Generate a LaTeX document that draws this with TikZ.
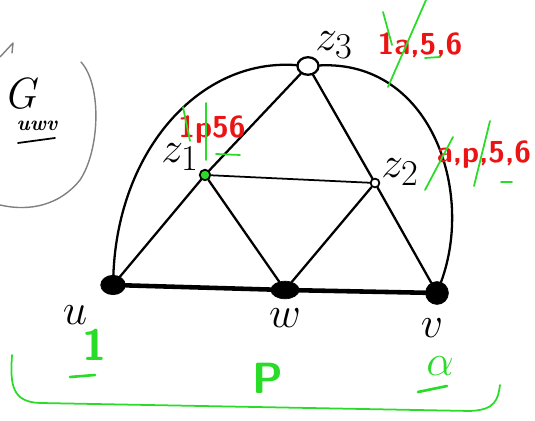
\documentclass[tikz,border=0pt]{standalone}
\usepackage{xcolor}
\definecolor{pengreen}{RGB}{40,220,40}
\definecolor{penred}{RGB}{235,20,20}
\tikzset{
  vtx/.style={draw, fill=black, ellipse, inner sep=0pt, minimum width=14pt, minimum height=11pt},
  edge/.style={line width=1.3pt},
  redlbl/.style={text=penred, font=\LARGE\bfseries\sffamily},
  vlbl/.style={font=\Huge},
  greenmark/.style={draw=pengreen, line width=1pt},
}
\usetikzlibrary{shapes.geometric}
\begin{document}
\begin{tikzpicture}[x=0.02cm, y=-0.02cm, line cap=round, line join=round]
    \useasboundingbox (0,0) rectangle (535,421);

    % Knoten
    \node[vtx] (u) at (113,285) {};
    \node[vtx, minimum width=16pt, minimum height=10pt] (w) at (285,290) {};
    \node[vtx, circle, minimum size=13pt] (v) at (437,293) {};
    \node[draw, circle, fill=pengreen, line width=1pt, inner sep=0pt, minimum size=6pt] (z1) at (205,175) {};
    \node[draw, circle, line width=1pt, inner sep=0pt, minimum size=5pt] (z2) at (375,183) {};
    \node[draw, ellipse, line width=1.3pt, inner sep=0pt, minimum width=12pt, minimum height=10pt] (z3) at (308,66) {};

    % Kanten
    \draw[edge, line width=2.6pt] (u) -- (w) -- (v);
    \draw[edge] (u) -- (z1) -- (w) -- (z2) -- (v);
    \draw[edge, line width=1pt] (z1) -- (z2);
    \draw[edge] (z3) -- (z1);
    \draw[edge] (z3) -- (z2);
    \draw[edge] (u) .. controls (118,150) and (200,58) .. (z3);
    \draw[edge] (z3) .. controls (430,60) and (475,190) .. (v);

    % Beschriftungen
    \node[vlbl] (lz3) at (334,45) {$z_3$};
    \node[vlbl] (lz1) at (180,157) {$z_1$};
    \node[vlbl] (lz2) at (400,172) {$z_2$};
    \node[vlbl] (lu) at (75,315) {$u$};
    \node[vlbl] (lw) at (285,318) {$w$};
    \node[vlbl] (lv) at (432,328) {$v$};

    % Farben
    \node[redlbl] (c3) at (420,45) {1a,5,6};
    \node[redlbl] (c1) at (212,130) {1p56};
    \node[redlbl] (c2) at (484,155) {a,p,5,6};

    % gestrichen
    \draw[greenmark] (383,12) -- (392,45);
    \draw[greenmark] (388,87) -- (426,0);
    \draw[greenmark] (425,58) -- (440,57);
    \draw[greenmark] (183,107) -- (190,141);
    \draw[greenmark] (206,103) -- (206,160);
    \draw[greenmark] (216,154) -- (240,155);
    \draw[greenmark] (425,190) -- (453,137);
    \draw[greenmark] (474,186) -- (490,121);
    \draw[greenmark] (501,182) -- (512,182);

    % Farbzuordnung
    \node[text=pengreen, font=\Huge\bfseries\sffamily] (g1) at (95,345) {1};
    \draw[greenmark, line width=1.5pt] (70,377) -- (95,375);
    \node[text=pengreen, font=\Huge\bfseries\sffamily] (gp) at (268,378) {P};
    \node[text=pengreen, font=\Huge\bfseries] (ga) at (440,366) {$\alpha$};
    \draw[greenmark, line width=1.5pt] (418,392) -- (447,386);
    \draw[greenmark] (12,355) .. controls (10,385) and (12,402) .. (40,403)
        -- (470,411) .. controls (495,410) and (498,400) .. (500,385);

    % G_uwv
    \draw[gray, line width=0.8pt] (81,62) .. controls (102,85) and (100,150) .. (80,180)
        .. controls (60,205) and (30,212) .. (0,205);
    \draw[gray, line width=0.8pt] (0,57) -- (13,43) -- (12,53);
    \node[font=\Huge\itshape] (G) at (20,94) {G};
    \node[font=\large\bfseries\itshape] (Gsub) at (37,126) {uwv};
    \draw[line width=1pt] (18,143) -- (55,138);
\end{tikzpicture}
\end{document}
